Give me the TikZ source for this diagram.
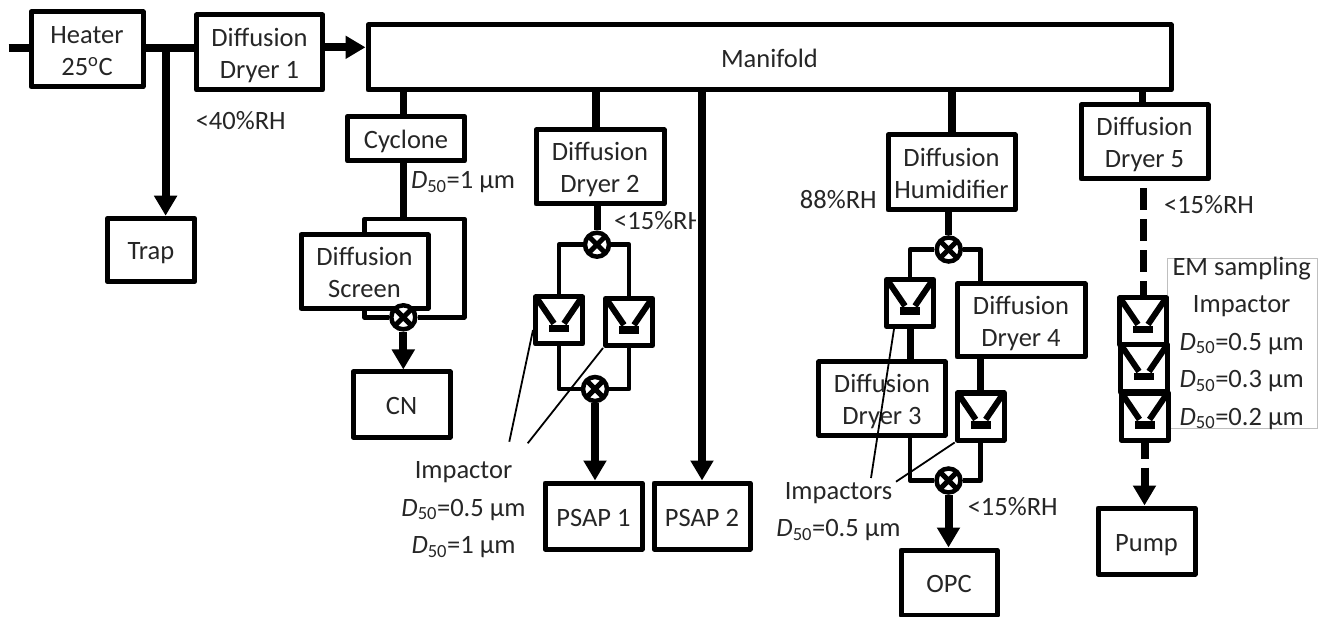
\documentclass[tikz,border=0pt]{standalone}
\usepackage{fontspec}
\setmainfont{Carlito}
\usetikzlibrary{arrows.meta}
\tikzset{
    every node/.style={font=\fontsize{26.5}{32}\selectfont,text=black!85,inner sep=0pt},
    tag/.style={execute at begin node={\rule{0pt}{#1pt}},execute at end node={\rule[-6pt]{0pt}{6pt}}},
    tag/.default=26,
    unit/.style={tag,draw=black,line width=5pt,line join=round,align=center,fill=white},
    twin/.style={unit,tag=58},
    sampler/.style={draw=black,line width=5pt,line join=round,fill=white,minimum width=47pt,minimum height=47pt},
    funnel/.style={line width=6pt},
    mixer/.style={circle,draw=black,fill=white,line width=4.5pt,minimum size=24pt,
        path picture={\draw[line width=5pt]
            (path picture bounding box.north west) -- (path picture bounding box.south east)
            (path picture bounding box.north east) -- (path picture bounding box.south west);}},
    pipe/.style={line width=8pt},
    feed/.style={line width=7pt},
    branch/.style={line width=4.7pt,line join=round},
    flow/.style={pipe,-{Triangle[length=20pt,width=22pt]}},
    leader/.style={line width=1.8pt},
    stack/.style={align=center,font=\fontsize{26.5}{37.5}\selectfont},
    notebox/.style={draw=black!25,line width=.6pt,minimum width=150pt,minimum height=170pt},
}
\newcommand\dfifty[1]{\textit{D}\textsubscript{50}=#1~µm}
\newcommand\impactor[3]{\node(#1)[sampler] at (#2,#3){};
    \draw[funnel] ([shift={(-22,-22)}]#1.center) -- ([shift={(-5,3)}]#1.center);
    \draw[funnel] ([shift={(22,-22)}]#1.center) -- ([shift={(5,3)}]#1.center);
    \fill ([shift={(-10,4.5)}]#1.center) rectangle ([shift={(10,12)}]#1.center);}
\newcommand\mixing[3]{\node(#1)[mixer] at (#2,#3){};}

\begin{document}
\begin{tikzpicture}[x=1pt,y=-1pt]
    \useasboundingbox (0,0) rectangle (1325,617);

    % main line
    \node(heater)[twin,minimum width=112pt,minimum height=74.5pt] at (87,49.2){Heater\\25\textsuperscript{o}C};
    \node(dryer1)[twin,minimum width=126pt,minimum height=75pt] at (259.5,52.5){Diffusion\\Dryer 1};
    \node(manifold)[unit,minimum width=803pt,minimum height=65pt] at (769.5,57.5){Manifold};
    \node(trap)[unit,minimum width=87.5pt,minimum height=63.5pt] at (151,250){Trap};
    \coordinate(inlet) at (8.5,48.5);
    \coordinate(tee) at (165.6,48);
    \draw[pipe] (inlet) -- (inlet -| heater.west);
    \draw[pipe] (heater.east |- tee) -- (tee -| dryer1.west);
    \draw[flow] (tee) -- (tee |- trap.north);
    \draw[flow] (dryer1.east |- 0,47.3) -- (manifold.west |- 0,47.3);
    \node(rh40)[tag] at (240.7,119.5){<40\%RH};

    % cyclone branch
    \node(cyclone)[unit,minimum width=117pt,minimum height=44.7pt] at (406,138.6){Cyclone};
    \node(screen)[twin,minimum width=127pt,minimum height=73.7pt] at (364.5,271.5){Diffusion\\Screen};
    \node(cn)[unit,minimum width=97pt,minimum height=65pt] at (401.5,404.5){CN};
    \mixing{mix1}{403.3}{317.3}
    \coordinate(tap1) at (403,219);
    \coordinate(loop1) at (464.3,219);
    \draw[feed] (manifold.south -| tap1) -- (tap1 |- cyclone.north);
    \draw[feed] (tap1 |- cyclone.south) -- (tap1);
    \draw[branch] (screen.north) |- (loop1) |- (mix1.east);
    \draw[branch] (screen.south) |- (mix1.west);
    \draw[flow] (mix1.south) -- (mix1.south |- cn.north);
    \node(d1)[tag] at (463,178.6){\dfifty{1}};

    % dryer 2 branch
    \node(dryer2)[twin,minimum width=128pt,minimum height=74pt] at (600,167){Diffusion\\Dryer 2};
    \node(psap1)[unit,minimum width=97pt,minimum height=66pt] at (593.5,516){PSAP 1};
    \node(psap2)[unit,minimum width=96pt,minimum height=66pt] at (702,516){PSAP 2};
    \mixing{mix2}{597}{244.7}
    \mixing{mix3}{595}{389}
    \impactor{imp1}{559}{320.5}
    \impactor{imp2}{629}{322}
    \coordinate(tap2) at (596,90);
    \draw[pipe] (tap2) -- (tap2 |- dryer2.north);
    \draw[feed] (mix2.north |- dryer2.south) -- (mix2.north);
    \draw[branch] (mix2.west) -| (imp1.north);
    \draw[branch] (mix2.east) -| (imp2.north);
    \draw[branch] (imp1.south) |- (mix3.west);
    \draw[branch] (imp2.south) |- (mix3.east);
    \draw[flow] (mix3.south) -- (mix3.south |- psap1.north);
    \draw[flow] (psap2.north |- manifold.south) -- (psap2.north);
    \begin{scope}
        \clip (600,200) rectangle (695.5,240);
        \node(rh15a)[tag,anchor=west] at (614,219.3){<15\%RH};
    \end{scope}
    \node(impnote)[stack,tag=101] at (463.5,506){Impactor\\\dfifty{0.5}\\\dfifty{1}};
    \coordinate(lead1) at (509.3,441.7);
    \coordinate(lead2) at (527.7,443.3);
    \draw[leader] (imp1.west |- 0,330) -- (lead1);
    \draw[leader] (imp2.south west) -- (lead2);

    % humidifier branch
    \node(humid)[twin,minimum width=127pt,minimum height=75pt] at (951.5,172.5){Diffusion\\Humidifier};
    \node(dryer4)[twin,minimum width=128pt,minimum height=73pt] at (1021,320.5){Diffusion\\Dryer 4};
    \node(dryer3)[twin,minimum width=126.5pt,minimum height=73pt] at (882,398.5){Diffusion\\Dryer 3};
    \node(opc)[unit,minimum width=96pt,minimum height=65pt] at (949,582.5){OPC};
    \mixing{mix4}{948.7}{249.5}
    \mixing{mix5}{948.5}{480.5}
    \impactor{imp3}{910}{303}
    \impactor{imp4}{980.7}{416.5}
    \draw[pipe] (humid.north |- manifold.south) -- (humid.north);
    \draw[feed] (mix4.north |- humid.south) -- (mix4.north);
    \draw[branch] (mix4.west) -| (imp3.north);
    \draw[branch] (mix4.east) -| (imp4 |- dryer4.north);
    \draw[feed] (imp3.south) -- (imp3 |- dryer3.north);
    \draw[feed] (imp4 |- dryer4.south) -- (imp4.north);
    \draw[branch] (imp3 |- dryer3.south) |- (mix5.west);
    \draw[branch] (imp4.south) |- (mix5.east);
    \draw[flow] (mix5.south) -- (mix5.south |- opc.north);
    \node(rh88)[tag] at (838.3,198.6){88\%RH};
    \node(rh15b)[tag] at (1012.7,505.3){<15\%RH};
    \node(impsnote)[stack,tag=63.5] at (838.5,508){Impactors\\\dfifty{0.5}};
    \coordinate(lead3) at (871,478);
    \coordinate(lead4) at (896,481.7);
    \draw[leader] (imp3.south west -| 894,0) -- (lead3);
    \draw[leader] (imp4.south west) -- (lead4);

    % sampling line
    \node(emnote)[notebox] at (1242,343){};
    \node(emtext)[stack,tag=176] at (1241.7,340.2){EM sampling\\Impactor\\\dfifty{0.5}\\\dfifty{0.3}\\\dfifty{0.2}};
    \node(dryer5)[twin,minimum width=127pt,minimum height=74pt] at (1144.5,142){Diffusion\\Dryer 5};
    \node(pump)[unit,minimum width=97pt,minimum height=66pt] at (1146.5,541){Pump};
    \impactor{imp5}{1143}{321.5}
    \impactor{imp6}{1144}{368.5}
    \impactor{imp7}{1144.5}{416.5}
    \draw[feed] (1142.5,90) -- (1142.5,105);
    \draw[feed,dash pattern=on 22pt off 9pt,dash phase=24pt] (imp5 |- dryer5.south) -- (imp5.north);
    \draw[flow,dash pattern=on 22pt off 9pt,dash phase=6pt] (imp7.south) -- (imp7.south |- pump.north);
    \node(rh15c)[tag] at (1209,203.6){<15\%RH};
\end{tikzpicture}
\end{document}
